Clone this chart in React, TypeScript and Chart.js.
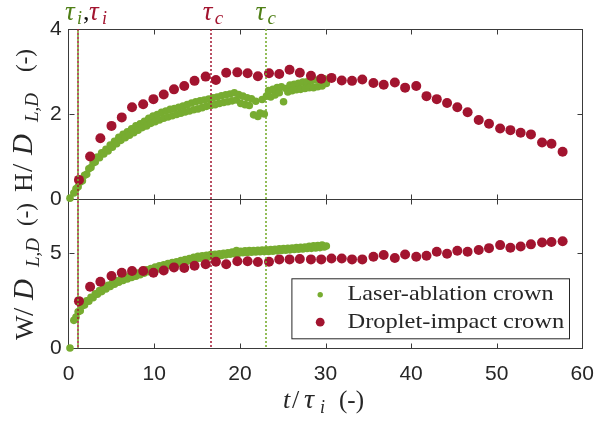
import { useEffect, useRef } from 'react';
import { Chart, registerables } from 'chart.js';

Chart.register(...registerables);

// ---------- data ----------
const laserT = [0.15, 0.6, 0.85, 1.1, 1.35, 1.6, 1.85, 2.1, 2.35, 2.6, 2.85, 3.1, 3.35, 3.6, 3.85, 4.1, 4.35, 4.6, 4.85, 5.1, 5.35, 5.6, 5.85, 6.1, 6.35, 6.6, 6.85, 7.1, 7.35, 7.6, 7.85, 8.1, 8.35, 8.6, 8.85, 9.1, 9.35, 9.6, 9.85, 10.1, 10.35, 10.6, 10.85, 11.1, 11.35, 11.6, 11.85, 12.1, 12.35, 12.6, 12.85, 13.1, 13.35, 13.6, 13.85, 14.1, 14.35, 14.6, 14.85, 15.1, 15.35, 15.6, 15.85, 16.1, 16.35, 16.6, 16.85, 17.1, 17.35, 17.6, 17.85, 18.1, 18.35, 18.6, 18.85, 19.1, 19.35, 19.6, 19.85, 20.1, 20.35, 20.6, 20.85, 21.1, 21.35, 21.6, 21.85, 22.1, 22.35, 22.6, 22.85, 23.1, 23.35, 23.6, 23.85, 24.1, 24.35, 24.6, 24.85, 25.1, 25.35, 25.6, 25.85, 26.1, 26.35, 26.6, 26.85, 27.1, 27.35, 27.6, 27.85, 28.1, 28.35, 28.6, 28.85, 29.1, 29.35, 29.6, 29.85, 30.1];
const laserH = [0.02, 0.14, 0.24, 0.29, 0.40, 0.43, 0.56, 0.58, 0.71, 0.74, 0.85, 0.87, 0.99, 0.97, 1.09, 1.06, 1.17, 1.13, 1.27, 1.22, 1.36, 1.30, 1.45, 1.38, 1.52, 1.44, 1.58, 1.50, 1.65, 1.56, 1.72, 1.62, 1.77, 1.68, 1.83, 1.72, 1.90, 1.78, 1.95, 1.82, 1.99, 1.86, 2.04, 1.90, 2.07, 1.93, 2.11, 1.96, 2.13, 1.99, 2.16, 2.02, 2.19, 2.05, 2.22, 2.07, 2.26, 2.10, 2.29, 2.12, 2.31, 2.15, 2.33, 2.18, 2.35, 2.20, 2.38, 2.22, 2.40, 2.25, 2.43, 2.27, 2.45, 2.29, 2.47, 2.31, 2.50, 2.33, 2.46, 2.25, 2.42, 2.22, 2.38, 2.20, 2.36, 1.98, 2.30, 1.94, 2.02, 2.34, 2.00, 2.42, 2.55, 2.40, 2.58, 2.45, 2.62, 2.50, 2.64, 2.29, 2.60, 2.52, 2.68, 2.55, 2.70, 2.57, 2.72, 2.58, 2.75, 2.60, 2.76, 2.62, 2.78, 2.62, 2.80, 2.64, 2.80, 2.66, 2.83, 2.72];
const laserW = [0.00, 1.45, 1.62, 1.90, 1.95, 2.22, 2.26, 2.48, 2.46, 2.66, 2.64, 2.85, 2.82, 3.01, 2.96, 3.16, 3.10, 3.29, 3.23, 3.42, 3.35, 3.53, 3.45, 3.62, 3.54, 3.70, 3.62, 3.78, 3.70, 3.86, 3.77, 3.94, 3.85, 4.02, 3.93, 4.10, 4.01, 4.17, 4.08, 4.25, 4.15, 4.31, 4.22, 4.37, 4.28, 4.43, 4.34, 4.48, 4.40, 4.53, 4.45, 4.59, 4.50, 4.64, 4.55, 4.70, 4.60, 4.76, 4.66, 4.81, 4.71, 4.84, 4.75, 4.87, 4.78, 4.90, 4.81, 4.92, 4.84, 4.95, 4.86, 4.97, 4.89, 5.00, 4.92, 5.03, 4.95, 5.12, 4.97, 5.08, 5.00, 5.10, 5.01, 5.11, 5.03, 5.12, 5.04, 5.13, 5.05, 5.14, 5.06, 5.15, 5.07, 5.17, 5.08, 5.18, 5.10, 5.20, 5.12, 5.22, 5.13, 5.23, 5.15, 5.25, 5.17, 5.27, 5.18, 5.28, 5.20, 5.30, 5.22, 5.34, 5.23, 5.36, 5.25, 5.38, 5.27, 5.40, 5.30, 5.35];

const dropT = [1.2, 2.5, 3.7, 5.0, 6.2, 7.4, 8.7, 9.9, 11.1, 12.3, 13.5, 14.7, 16.0, 17.2, 18.4, 19.7, 20.9, 22.1, 23.4, 24.6, 25.8, 27.0, 28.3, 29.5, 30.7, 31.9, 33.1, 34.3, 35.6, 36.8, 38.1, 39.3, 40.6, 41.8, 43.0, 44.2, 45.4, 46.6, 47.9, 49.1, 50.4, 51.6, 52.8, 54.0, 55.3, 56.4, 57.7];
const dropH = [0.45, 1.0, 1.43, 1.72, 1.92, 2.16, 2.23, 2.35, 2.46, 2.58, 2.66, 2.78, 2.88, 2.80, 2.97, 2.98, 2.96, 2.89, 2.96, 2.94, 3.04, 2.97, 2.90, 2.83, 2.85, 2.79, 2.78, 2.81, 2.73, 2.69, 2.74, 2.62, 2.66, 2.42, 2.35, 2.26, 2.16, 2.04, 1.86, 1.77, 1.66, 1.62, 1.56, 1.52, 1.33, 1.30, 1.11];
const dropW = [2.46, 3.21, 3.48, 3.78, 3.95, 4.04, 4.04, 3.95, 4.07, 4.23, 4.20, 4.32, 4.40, 4.53, 4.40, 4.55, 4.55, 4.51, 4.53, 4.65, 4.65, 4.67, 4.65, 4.65, 4.70, 4.70, 4.65, 4.65, 4.79, 4.88, 4.72, 4.91, 4.79, 4.84, 5.05, 4.95, 5.10, 5.05, 5.14, 5.24, 5.40, 5.26, 5.33, 5.44, 5.54, 5.56, 5.60];

const xTicks = [0, 10, 20, 30, 40, 50, 60];
const hTicks = [0, 2, 4];
const wTicks = [0, 5];
const seriesNames = ['Laser-ablation crown', 'Droplet-impact crown'];
const tauI = 1.08; // both series
const tauCDrop = 16.6;
const tauCLaser = 23.0;

const GREEN = '#77AC30';
const RED = '#A2142F';
const GREEN_TXT = '#4f7f16';
const AX = '#262626';
const FR = '#3a3a3a';
const NONE = 'rgba(0,0,0,0)';

type Piece = { s: string; at: number; size: number; italic?: boolean; dy?: number; color?: string };

function drawPieces(ctx: CanvasRenderingContext2D, pieces: Piece[], x: number, y: number, rot: number) {
  ctx.save();
  ctx.translate(x, y);
  ctx.rotate(rot);
  ctx.textBaseline = 'alphabetic';
  ctx.textAlign = 'left';
  for (const p of pieces) {
    ctx.font = `${p.italic ? 'italic ' : ''}${p.size}px "Liberation Serif"`;
    ctx.fillStyle = p.color ?? AX;
    ctx.fillText(p.s, p.at, p.dy ?? 0);
  }
  ctx.restore();
}

function seg(ctx: CanvasRenderingContext2D, x1: number, y1: number, x2: number, y2: number) {
  ctx.beginPath();
  ctx.moveTo(x1, y1);
  ctx.lineTo(x2, y2);
  ctx.stroke();
}

const decor = {
  id: 'decor',
  afterDatasetsDraw(chart: any) {
    const ctx: CanvasRenderingContext2D = chart.ctx;
    const x = chart.scales.x;
    const yH = chart.scales.yH;
    const yW = chart.scales.yW;
    const hT = yH.getPixelForValue(hTicks[hTicks.length - 1]);
    const wB = yW.getPixelForValue(wTicks[0]);
    ctx.save();
    ctx.lineWidth = 2;
    const lines = [
      { t: tauI, c: 'rgba(162,20,47,0.75)', off: 0 },
      { t: tauI, c: 'rgba(119,172,48,0.8)', off: 2 },
      { t: tauCDrop, c: 'rgba(162,20,47,0.75)', off: 0 },
      { t: tauCLaser, c: 'rgba(119,172,48,0.8)', off: 0 },
    ];
    for (const l of lines) {
      const px = Math.round(x.getPixelForValue(l.t));
      ctx.strokeStyle = l.c;
      ctx.setLineDash([2, 2]);
      ctx.lineDashOffset = l.off;
      seg(ctx, px, hT, px, wB);
    }
    ctx.restore();
  },
  afterDraw(chart: any) {
    const ctx: CanvasRenderingContext2D = chart.ctx;
    const x = chart.scales.x;
    const yH = chart.scales.yH;
    const yW = chart.scales.yW;
    const L = Math.round(x.getPixelForValue(xTicks[0])) + 0.5;
    const R = Math.round(x.getPixelForValue(xTicks[xTicks.length - 1])) + 0.5;
    const hT = Math.round(yH.getPixelForValue(hTicks[hTicks.length - 1])) + 0.5;
    const hB = Math.round(yH.getPixelForValue(hTicks[0])) + 0.5;
    const wT = Math.round(yW.getPixelForValue(yW.max)) + 0.5;
    const wB = Math.round(yW.getPixelForValue(wTicks[0])) + 0.5;

    // inward tick marks
    ctx.save();
    ctx.setLineDash([]);
    ctx.strokeStyle = FR;
    ctx.lineWidth = 1;
    const boxes = [
      { T: hT, B: hB, s: yH, inner: hTicks.slice(1, -1) },
      { T: wT, B: wB, s: yW, inner: wTicks.slice(1) },
    ];
    for (const b of boxes) {
      for (const v of xTicks.slice(1, -1)) {
        const px = Math.round(x.getPixelForValue(v)) + 0.5;
        seg(ctx, px, b.T, px, b.T + 5);
        seg(ctx, px, b.B, px, b.B - 5);
      }
      for (const v of b.inner) {
        const py = Math.round(b.s.getPixelForValue(v)) + 0.5;
        seg(ctx, L, py, L + 5, py);
        seg(ctx, R, py, R - 5, py);
      }
    }
    ctx.restore();

    // axis titles
    drawPieces(ctx, [
      { s: 'H', at: 0, size: 26 },
      { s: '/', at: 20, size: 30 },
      { s: 'D', at: 37, size: 29, italic: true },
      { s: 'L,D', at: 70, size: 19, italic: true, dy: 6 },
      { s: '(-)', at: 120, size: 23 },
    ], 32, 192, -Math.PI / 2);
    drawPieces(ctx, [
      { s: 'W', at: 0, size: 26 },
      { s: '/', at: 24, size: 30 },
      { s: 'D', at: 40, size: 29, italic: true },
      { s: 'L,D', at: 73, size: 19, italic: true, dy: 6 },
      { s: '(-)', at: 114, size: 23 },
    ], 33, 340, -Math.PI / 2);
    drawPieces(ctx, [
      { s: 't', at: 283, size: 26, italic: true },
      { s: '/', at: 292, size: 26 },
      { s: 'τ', at: 304, size: 28, italic: true },
      { s: 'i', at: 320, size: 18, italic: true, dy: 5 },
      { s: '(-)', at: 339, size: 25 },
    ], 0, 408, 0);

    // tau labels
    const xi = x.getPixelForValue(tauI);
    drawPieces(ctx, [
      { s: 'τ', at: xi - 13, size: 27, italic: true, color: GREEN_TXT },
      { s: 'i', at: xi - 1, size: 18, italic: true, dy: 4, color: GREEN_TXT },
      { s: ',', at: xi + 5, size: 26, color: '#111' },
      { s: 'τ', at: xi + 11, size: 27, italic: true, color: RED },
      { s: 'i', at: xi + 24, size: 18, italic: true, dy: 4, color: RED },
    ], 0, 20, 0);
    const xcD = x.getPixelForValue(tauCDrop);
    drawPieces(ctx, [
      { s: 'τ', at: xcD - 8, size: 27, italic: true, color: RED },
      { s: 'c', at: xcD + 4, size: 19, italic: true, dy: 4, color: RED },
    ], 0, 20, 0);
    const xcL = x.getPixelForValue(tauCLaser);
    drawPieces(ctx, [
      { s: 'τ', at: xcL - 10, size: 27, italic: true, color: GREEN_TXT },
      { s: 'c', at: xcL + 2, size: 19, italic: true, dy: 4, color: GREEN_TXT },
    ], 0, 20, 0);

    // legend
    const bx1 = R - 290.6, bx2 = R - 13, by2 = wB - 9.7, by1 = by2 - 60;
    ctx.save();
    ctx.fillStyle = '#fff';
    ctx.fillRect(bx1, by1, bx2 - bx1, by2 - by1);
    ctx.strokeStyle = AX;
    ctx.lineWidth = 1;
    ctx.strokeRect(bx1, by1, bx2 - bx1, by2 - by1);
    const entries = [
      { name: seriesNames[0], color: GREEN, r: 2.7, cy: by1 + 16, base: by1 + 21, w: 206 },
      { name: seriesNames[1], color: RED, r: 4.4, cy: by1 + 43.4, base: by1 + 49, w: 216.7 },
    ];
    for (const e of entries) {
      ctx.fillStyle = e.color;
      ctx.beginPath();
      ctx.arc(bx1 + 28.3, e.cy, e.r, 0, Math.PI * 2);
      ctx.fill();
      ctx.font = '21px "Liberation Serif"';
      ctx.fillStyle = AX;
      ctx.textBaseline = 'alphabetic';
      const mw = ctx.measureText(e.name).width;
      ctx.save();
      ctx.translate(bx1 + 55.6, e.base);
      ctx.scale(e.w / mw, 1);
      ctx.fillText(e.name, 0, 0);
      ctx.restore();
    }
    ctx.restore();
  },
};

export default function App() {
  const ref = useRef<HTMLCanvasElement | null>(null);
  useEffect(() => {
    if (!ref.current) return;
    const pts = (xs: number[], ys: number[]) => xs.map((v, i) => ({ x: v, y: ys[i] }));
    const tickFont = { family: '"Liberation Sans", Arial, sans-serif', size: 21 };
    const noPadY = (s: any) => { s.width = 68.7; s.paddingTop = 0; s.paddingBottom = 0; };
    const edgeGrid = (edges: number[]) => ({
      display: true,
      drawTicks: false,
      drawOnChartArea: true,
      lineWidth: 1,
      color: (c: any) => (c.tick && edges.includes(c.tick.value) ? FR : NONE),
    });
    const chart = new Chart(ref.current, {
      type: 'scatter',
      data: {
        datasets: [
          { label: seriesNames[0], data: pts(laserT, laserH), yAxisID: 'yH', backgroundColor: GREEN, borderWidth: 0, pointRadius: 3.8, order: 2, clip: false as any },
          { label: seriesNames[1], data: pts(dropT, dropH), yAxisID: 'yH', backgroundColor: RED, borderWidth: 0, pointRadius: 5, order: 1, clip: false as any },
          { label: seriesNames[0] + ' W', data: pts(laserT, laserW), yAxisID: 'yW', backgroundColor: GREEN, borderWidth: 0, pointRadius: 3.8, order: 2, clip: false as any },
          { label: seriesNames[1] + ' W', data: pts(dropT, dropW), yAxisID: 'yW', backgroundColor: RED, borderWidth: 0, pointRadius: 5, order: 1, clip: false as any },
        ],
      },
      options: {
        animation: false,
        responsive: false,
        devicePixelRatio: 1,
        layout: { padding: { top: 29, right: 13.7, left: 0, bottom: 0 } },
        plugins: { legend: { display: false }, tooltip: { enabled: false } },
        scales: {
          x: {
            type: 'linear', min: 0, max: 60, position: 'bottom',
            afterBuildTicks: (s: any) => { s.ticks = xTicks.map((v) => ({ value: v })); },
            afterFit: (s: any) => { s.height = 76; s.paddingLeft = 0; s.paddingRight = 0; },
            ticks: { font: tickFont, color: AX, padding: 14, maxRotation: 0 },
            grid: edgeGrid([xTicks[0], xTicks[xTicks.length - 1]]),
            border: { display: true, color: FR, width: 1 },
          },
          yW: {
            type: 'linear', min: 0, max: 7.82, position: 'left', stack: 'panels', stackWeight: 149,
            afterBuildTicks: (s: any) => { s.ticks = wTicks.map((v) => ({ value: v })); },
            afterFit: noPadY,
            ticks: { font: tickFont, color: AX, padding: 7 },
            grid: edgeGrid([wTicks[0]]),
            border: { display: true, color: FR, width: 1 },
          },
          yH: {
            type: 'linear', min: 0, max: 4, position: 'left', stack: 'panels', stackWeight: 170,
            afterBuildTicks: (s: any) => { s.ticks = hTicks.map((v) => ({ value: v })); },
            afterFit: noPadY,
            ticks: { font: tickFont, color: AX, padding: 7 },
            grid: edgeGrid([hTicks[0], hTicks[hTicks.length - 1]]),
            border: { display: true, color: FR, width: 1 },
          },
        } as any,
      },
      plugins: [decor],
    });
    return () => chart.destroy();
  }, []);
  return (
    <div style={{ position: 'absolute', left: 0, top: 0, width: 596, height: 424, background: '#fff' }}>
      <canvas ref={ref} width={596} height={424} style={{ width: 596, height: 424, display: 'block' }} />
    </div>
  );
}
